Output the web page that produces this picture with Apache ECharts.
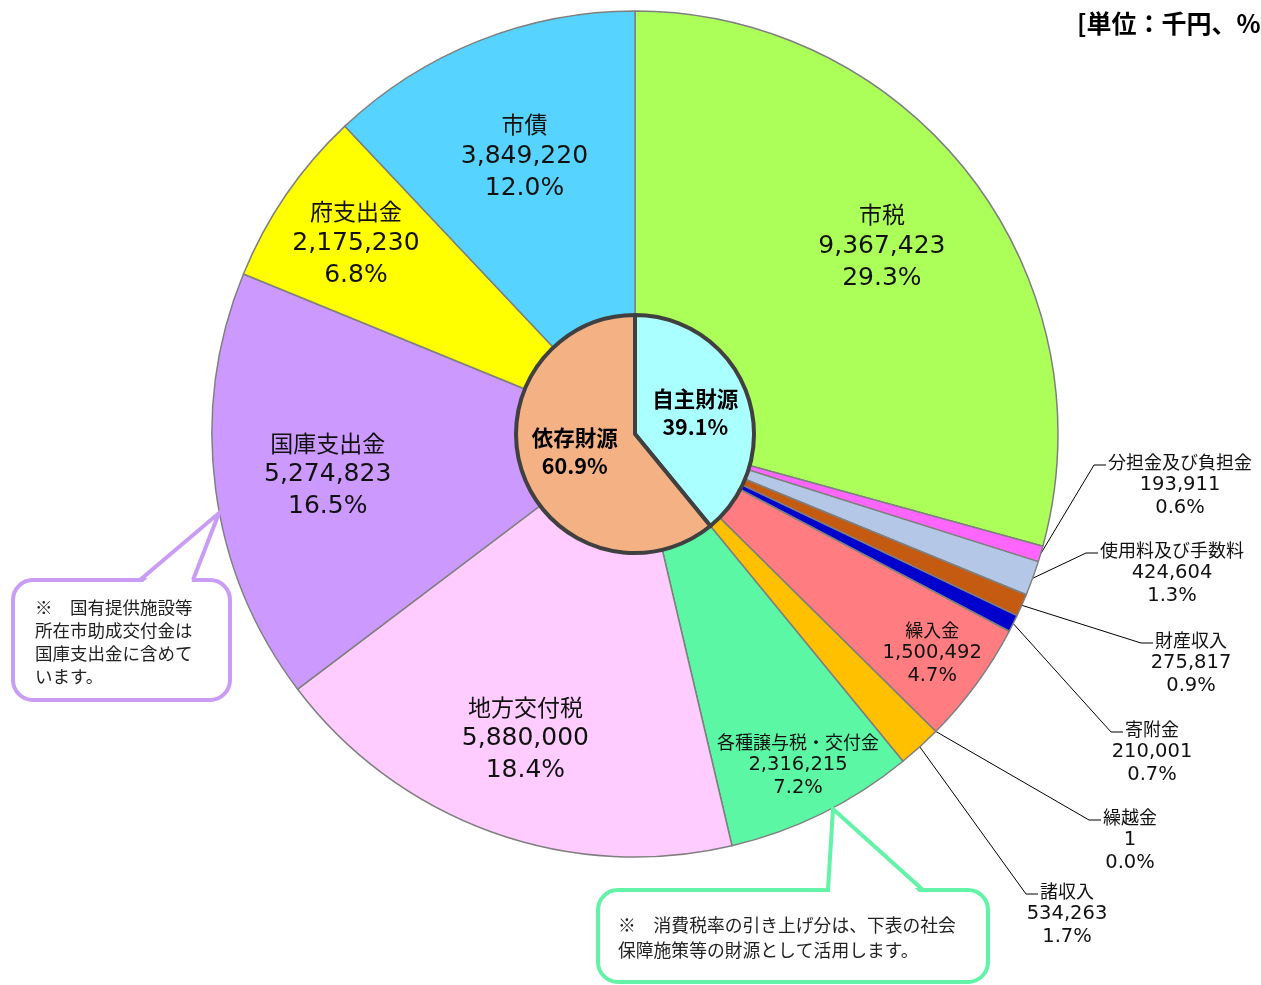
<!DOCTYPE html>
<html>
<head>
<meta charset="utf-8">
<script src="https://cdn.jsdelivr.net/npm/echarts@6/dist/echarts.min.js"></script>
<style>
  html, body { margin: 0; padding: 0; background: #fff; }
  #main { width: 1261px; height: 985px; }
</style>
</head>
<body>
<div id="main"></div>
<script>
// 歳入の内訳（単位：千円）
const categories = ['市税', '分担金及び負担金', '使用料及び手数料', '財産収入', '寄附金', '繰入金',
  '繰越金', '諸収入', '各種譲与税・交付金', '地方交付税', '国庫支出金', '府支出金', '市債'];
const amounts = [9367423, 193911, 424604, 275817, 210001, 1500492,
  1, 534263, 2316215, 5880000, 5274823, 2175230, 3849220];
// 内側の円：先頭8項目が自主財源、残りが依存財源
const groupNames = ['自主財源', '依存財源'];
const ownSourceCount = 8;

const unitText = '[単位：千円、%';
const note1 = '※　国有提供施設等\n所在市助成交付金は\n国庫支出金に含めて\nいます。';
const note2 = '※　消費税率の引き上げ分は、下表の社会\n保障施策等の財源として活用します。';

// 見た目の設定
const colors = ['#acff59', '#ff66ff', '#b4c7e7', '#c55a11', '#0000cc', '#ff7c80',
  '#a6a6a6', '#ffc000', '#5cf7a4', '#ffccff', '#cc99ff', '#ffff00', '#57d3ff'];
const groupColors = ['#aaffff', '#f4b183'];
const cx = 635, cy = 434;
const bigNames = ['市税', '市債', '府支出金', '国庫支出金', '地方交付税'];
const labelRadius = { '繰入金': 369, '各種譲与税・交付金': 369, '府支出金': 338, '市債': 299, '地方交付税': 324 };
// 外側ラベル: [文字中心x, 1行目中心y]
const outerLabelPos = {
  '分担金及び負担金': [1180, 462],
  '使用料及び手数料': [1172, 550],
  '財産収入': [1191, 640],
  '寄附金': [1152, 729],
  '繰越金': [1130, 817],
  '諸収入': [1067, 891]
};

const total = amounts.reduce((a, b) => a + b, 0);
const ownTotal = amounts.slice(0, ownSourceCount).reduce((a, b) => a + b, 0);
const groupValues = [ownTotal, total - ownTotal];
const pct = v => (v / total * 100).toFixed(1) + '%';

const CJK = "'Noto Sans CJK JP'";
const NUM = "'DejaVu Sans'";

const outerData = categories.map((name, i) => {
  const outside = !!outerLabelPos[name];
  return {
    name: name,
    value: amounts[i],
    itemStyle: { color: colors[i] },
    label: outside ? { position: 'outside' } : {},
    labelLine: { show: outside }
  };
});

const innerData = groupNames.map((name, i) => ({
  name: name, value: groupValues[i], itemStyle: { color: groupColors[i] }
}));

const chart = echarts.init(document.getElementById('main'));
chart.setOption({
  animation: false,
  backgroundColor: '#fff',
  series: [
    {
      type: 'pie',
      center: [cx, cy],
      radius: [0, 423],
      startAngle: 90,
      clockwise: true,
      avoidLabelOverlap: false,
      silent: true,
      itemStyle: { borderColor: '#7f7f7f', borderWidth: 1.5 },
      label: {
        show: true,
        position: 'inside',
        color: '#111',
        formatter: p => {
          const big = bigNames.indexOf(p.name) >= 0;
          const n = big ? 'n' : 'sn', v = big ? 'v' : 'sv';
          return '{' + n + '|' + p.name + '}\n{' + v + '|' + p.value.toLocaleString('en-US') +
            '}\n{' + v + '|' + pct(p.value) + '}';
        },
        rich: {
          n: { fontFamily: CJK, fontSize: 23, lineHeight: 32, color: '#111' },
          v: { fontFamily: NUM, fontSize: 25, lineHeight: 32, color: '#111' },
          sn: { fontFamily: CJK, fontSize: 18, lineHeight: 23, color: '#111' },
          sv: { fontFamily: NUM, fontSize: 19.5, lineHeight: 23, color: '#111' }
        }
      },
      labelLine: { show: false, length: 10, length2: 10, lineStyle: { color: '#000', width: 1 } },
      labelLayout: function (p) {
        const name = categories[p.dataIndex];
        if (outerLabelPos[name]) {
          const x = outerLabelPos[name][0], y0 = outerLabelPos[name][1];
          const left = x - name.length * 18 / 2;
          const start = p.labelLinePoints ? p.labelLinePoints[0] : [x, y0];
          return {
            x: x, y: y0 - 11.5, align: 'center', verticalAlign: 'top',
            labelLinePoints: [start, [left - 14, y0 + 3], [left - 2, y0 + 3]]
          };
        }
        const r = p.labelRect;
        const dx = r.x + r.width / 2 - cx, dy = r.y + r.height / 2 - cy;
        const d = Math.hypot(dx, dy) || 1;
        const R = labelRadius[name] || 310;
        return { x: cx + dx / d * R, y: cy + dy / d * R, align: 'center', verticalAlign: 'middle' };
      },
      data: outerData
    },
    {
      type: 'pie',
      center: [cx, cy],
      radius: [0, 119],
      startAngle: 90,
      clockwise: true,
      silent: true,
      z: 5,
      itemStyle: { borderColor: '#404040', borderWidth: 4 },
      label: {
        show: true,
        position: 'inside',
        color: '#000',
        fontFamily: CJK,
        fontWeight: 'bold',
        fontSize: 21.5,
        lineHeight: 28,
        formatter: p => p.name + '\n' + (p.value / total * 100).toFixed(1) + '%'
      },
      labelLayout: function (p) {
        const r = p.labelRect;
        const dx = r.x + r.width / 2 - cx, dy = r.y + r.height / 2 - cy;
        const d = Math.hypot(dx, dy) || 1;
        return { x: cx + dx / d * 64, y: cy + dy / d * 58 - 2, align: 'center', verticalAlign: 'middle' };
      },
      labelLine: { show: false },
      data: innerData
    }
  ],
  graphic: [
    {
      type: 'text', left: 1077, top: 11,
      style: { text: unitText, font: 'bold 25px ' + CJK, fill: '#000' }
    },
    // 注記1（紫）
    {
      type: 'rect', shape: { x: 13, y: 580, width: 217, height: 120, r: 20 },
      style: { fill: '#fff', stroke: '#c99cf6', lineWidth: 4 }, z: 10
    },
    {
      type: 'polygon', shape: { points: [[142, 583], [219, 514], [191, 583]] },
      style: { fill: '#fff' }, z: 11
    },
    {
      type: 'polyline', shape: { points: [[140, 580], [219, 513], [193, 580]] },
      style: { stroke: '#c99cf6', lineWidth: 4, fill: null }, z: 11
    },
    {
      type: 'text', left: 35, top: 596, z: 12,
      style: { text: note1, font: '17.5px ' + CJK, lineHeight: 23, fill: '#222' }
    },
    // 注記2（緑）
    {
      type: 'rect', shape: { x: 598, y: 890, width: 390, height: 92, r: 20 },
      style: { fill: '#fff', stroke: '#62f3a8', lineWidth: 4 }, z: 10
    },
    {
      type: 'polygon', shape: { points: [[830, 893], [833, 810], [920, 893]] },
      style: { fill: '#fff' }, z: 11
    },
    {
      type: 'polyline', shape: { points: [[828, 890], [833, 809], [923, 890]] },
      style: { stroke: '#62f3a8', lineWidth: 4, fill: null }, z: 11
    },
    {
      type: 'text', left: 618, top: 913, z: 12,
      style: { text: note2, font: '17.8px ' + CJK, lineHeight: 25, fill: '#222' }
    }
  ]
});
</script>
</body>
</html>
